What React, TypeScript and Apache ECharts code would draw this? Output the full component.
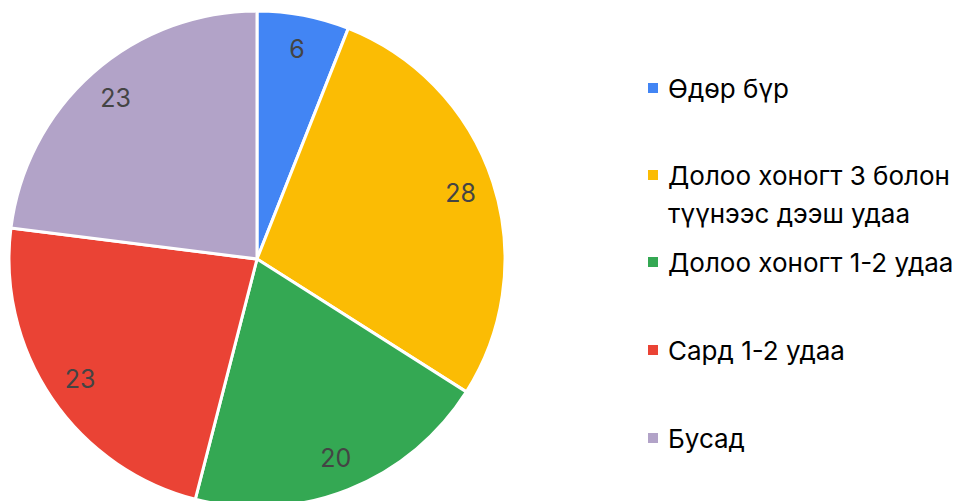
import React, { useEffect, useRef } from "react";
import * as echarts from "echarts";

const categories = [
  "Өдөр бүр",
  "Долоо хоногт 3 болон\nтүүнээс дээш удаа",
  "Долоо хоногт 1-2 удаа",
  "Сард 1-2 удаа",
  "Бусад",
];
const values = [6, 28, 20, 23, 23];
const colors = ["#4285F4", "#FBBC04", "#34A853", "#EA4335", "#B2A3C8"];
const legendCenters = [80, 167, 254, 342, 430];

export default function App() {
  const ref = useRef<HTMLDivElement>(null);
  useEffect(() => {
    const chart = echarts.init(ref.current!, null, { renderer: "svg" });
    const data = categories.map((c, i) => ({ name: c, value: values[i] }));
    const legendGraphics: any[] = [];
    categories.forEach((c, i) => {
      legendGraphics.push({
        type: "rect",
        shape: { x: 640, y: legendCenters[i] - 5, width: 10, height: 10 },
        style: { fill: colors[i] },
      });
      legendGraphics.push({
        type: "text",
        x: 660,
        y: legendCenters[i] - 19,
        style: {
          text: c,
          font: "26px Inter",
          fill: "#000",
          verticalAlign: "top",
          lineHeight: 38,
        },
      });
    });
    chart.setOption({
      animation: false,
      color: colors,
      textStyle: { fontFamily: "Inter" },
      graphic: legendGraphics,
      series: [
        {
          type: "pie",
          center: [249, 251],
          radius: [0, 248],
          startAngle: 90,
          clockwise: true,
          data,
          label: { show: false },
          labelLine: { show: false },
          itemStyle: { borderColor: "#fff", borderWidth: 3 },
          emphasis: { disabled: true },
        },
        {
          type: "pie",
          center: [249, 251],
          radius: [176, 246],
          startAngle: 90,
          clockwise: true,
          silent: true,
          data,
          itemStyle: { color: "transparent", borderWidth: 0 },
          label: {
            show: true,
            position: "inside",
            formatter: "{c}",
            color: "#444",
            fontSize: 25,
            fontFamily: "Inter",
          },
          labelLine: { show: false },
          emphasis: { disabled: true },
        },
      ],
    });
    return () => chart.dispose();
  }, []);
  return <div ref={ref} style={{ width: 945, height: 493 }} />;
}
